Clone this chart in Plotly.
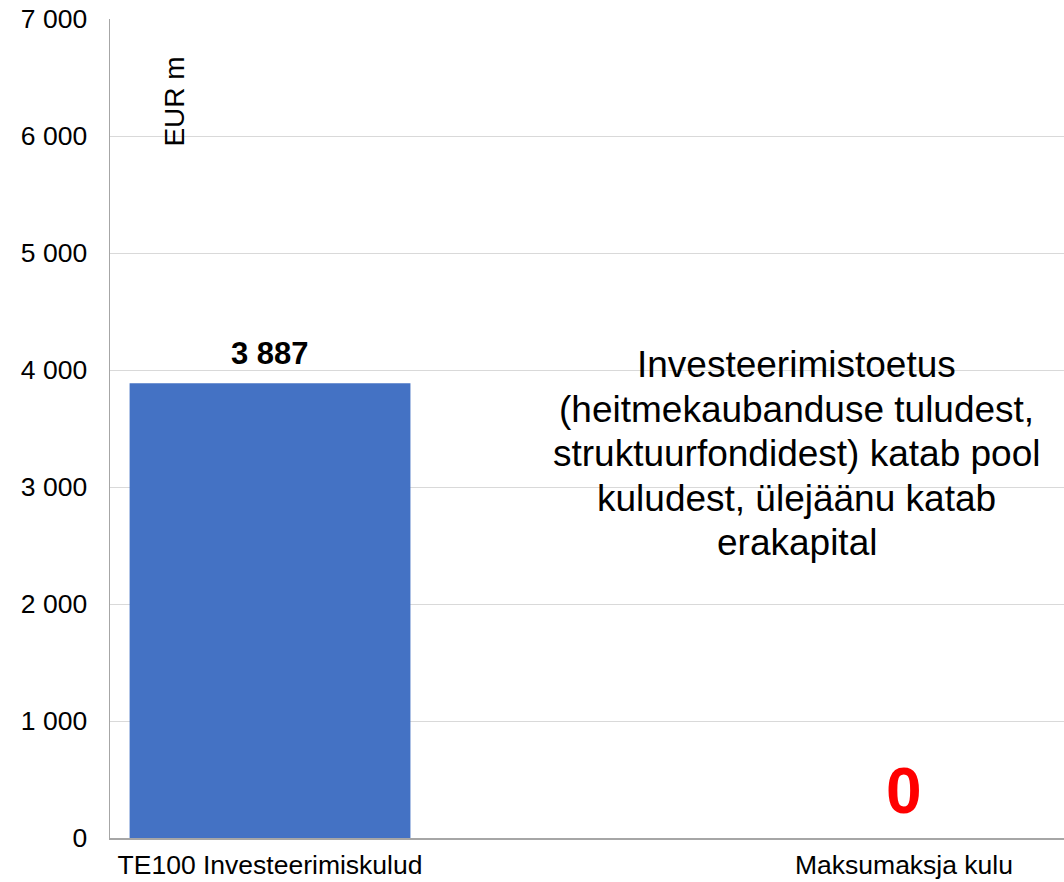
import plotly.graph_objects as go

categories = ["TE100 Investeerimiskulud", "Maksumaksja kulu"]
values = [3887, 0]
label_colors = ["#000000", "#FF0000"]
label_sizes = [31, 64]
label_shifts = [30, 47]
y_ticks = [0, 1000, 2000, 3000, 4000, 5000, 6000, 7000]
unit_label = "EUR m"
note_lines = [
    "Investeerimistoetus",
    "(heitmekaubanduse tuludest,",
    "struktuurfondidest) katab pool",
    "kuludest, ülejäänu katab",
    "erakapital",
]

FONT = "Liberation Sans, Arial, sans-serif"

fig = go.Figure()
fig.add_trace(go.Bar(
    x=categories, y=values, width=0.443,
    marker=dict(color="#4472C4", line=dict(width=0)),
    hoverinfo="skip", showlegend=False,
))

def fmt(v):
    return f"{v:,}".replace(",", " ")

for c, v, col, sz, sh in zip(categories, values, label_colors, label_sizes, label_shifts):
    fig.add_annotation(x=c, y=v, text=f"<b>{fmt(v)}</b>", showarrow=False,
                       xanchor="center", yanchor="middle", yshift=sh,
                       font=dict(family=FONT, size=sz, color=col))

fig.add_annotation(xref="paper", yref="paper", x=0.068, y=0.899, text=unit_label,
                   textangle=-90, showarrow=False, xanchor="center", yanchor="middle",
                   font=dict(family=FONT, size=28, color="#000000"))

n = len(note_lines)
for i, line in enumerate(note_lines):
    fig.add_annotation(xref="paper", yref="paper", x=0.72, y=0.469, text=line,
                       showarrow=False, xanchor="center", yanchor="middle", align="center",
                       yshift=-(i - (n - 1) / 2) * 44.5,
                       font=dict(family=FONT, size=37, color="#000000"))

fig.update_layout(
    width=1064, height=882,
    margin=dict(l=110, r=0, t=19, b=44, pad=0),
    paper_bgcolor="white", plot_bgcolor="white",
    separators=". ",
    font=dict(family=FONT, size=26.5, color="#000000"),
    xaxis=dict(type="category", range=[-0.2524, 1.2524], showgrid=False,
               showline=True, linecolor="#A6A6A6", linewidth=1.5,
               ticks="", tickfont=dict(size=26.5), ticklabelstandoff=3,
               ticklabeloverflow="allow", automargin=False, fixedrange=True),
    yaxis=dict(range=[0, 7000], tickvals=y_ticks, tickformat=",d",
               showgrid=True, gridcolor="#D9D9D9", gridwidth=1,
               showline=True, linecolor="#A6A6A6", linewidth=1.5,
               zeroline=False, ticks="", ticklabelstandoff=16,
               ticklabeloverflow="allow",
               tickfont=dict(size=26.5), automargin=False, fixedrange=True),
)

fig.write_html(
    "out.html",
    config={"displayModeBar": False, "staticPlot": True},
    post_script="document.body.style.margin='0';document.body.style.overflow='hidden';",
)
